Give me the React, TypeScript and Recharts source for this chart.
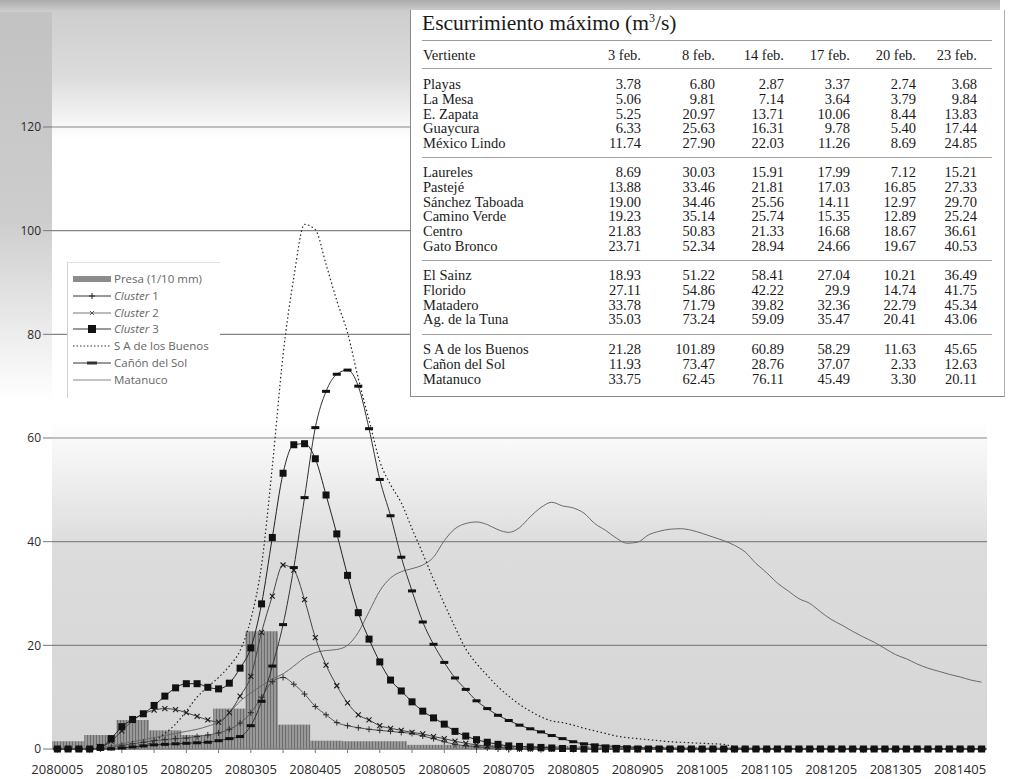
import React from "react";
import { ComposedChart, Bar, Line, XAxis, YAxis, CartesianGrid } from "recharts";

// 10-minute steps, day 208, 00:05 .. 14:25
const hourCodes = ["00", "01", "02", "03", "04", "05", "06", "07", "08", "09", "10", "11", "12", "13", "14"];
const minuteCodes = ["05", "15", "25", "35", "45", "55"];
const categories = hourCodes.flatMap((h) => minuteCodes.map((m) => `208${h}${m}`)).slice(0, 87);

const yTicks = [0, 20, 40, 60, 80, 100, 120];

// Presa (1/10 mm), one value per half hour
const presaHalfHour = [
  1.5, 2.7, 5.6, 3.6, 2.7, 7.8, 22.7, 4.7, 1.6, 1.5, 1.5, 0.8, 0.8, 0.8, 0.6,
  0.6, 0.5, 0.5, 0.4, 0.4, 0.3, 0.3, 0, 0, 0, 0, 0, 0, 0,
];

const cluster1 = [
  0, 0, 0, 0, 0, 0.3, 0.7, 1, 1.3, 1.6, 1.8, 2, 2.1, 2.4, 2.7, 3.1, 3.8, 5, 7, 10,
  13, 13.8, 12.5, 10.6, 8.2, 6.6, 5.1, 4.5, 4.1, 3.8, 3.6, 3.4, 3.2, 3, 2.5, 2, 1.4, 0.9, 0.6, 0.4,
  0.2, 0, 0, 0, 0, 0, 0, 0, 0, 0, 0, 0, 0, 0, 0, 0, 0, 0, 0, 0,
  0, 0, 0, 0, 0, 0, 0, 0, 0, 0, 0, 0, 0, 0, 0, 0, 0, 0, 0, 0,
  0, 0, 0, 0, 0, 0, 0,
];

const cluster2 = [
  0, 0, 0, 0, 0.3, 1.5, 3.5, 5.5, 6.8, 7.5, 7.8, 7.6, 7, 6.3, 5.6, 5.2, 7, 10.2, 14, 22.5,
  29.5, 35.5, 34.5, 28.8, 21.5, 16.2, 12.2, 8.9, 6.6, 5.6, 4.5, 4, 3.6, 3.2, 2.9, 2.4, 2, 1.5, 1.1, 0.8,
  0.5, 0.3, 0.2, 0, 0, 0, 0, 0, 0, 0, 0, 0, 0, 0, 0, 0, 0, 0, 0, 0,
  0, 0, 0, 0, 0, 0, 0, 0, 0, 0, 0, 0, 0, 0, 0, 0, 0, 0, 0, 0,
  0, 0, 0, 0, 0, 0, 0,
];

const cluster3 = [
  0, 0, 0, 0, 0.3, 2, 4.3, 5.7, 6.8, 8.4, 10.2, 11.8, 12.6, 12.6, 11.9, 11.6, 12.7, 15.6, 19.5, 28,
  40.8, 53.2, 58.7, 58.9, 56, 49, 41.5, 33.5, 26.3, 21.2, 16.8, 13.3, 11.2, 9.1, 7.3, 6, 4.8, 3.4, 2.5, 1.8,
  1.3, 0.9, 0.6, 0.5, 0.4, 0.3, 0.2, 0.1, 0.1, 0, 0, 0, 0, 0, 0, 0, 0, 0, 0, 0,
  0, 0, 0, 0, 0, 0, 0, 0, 0, 0, 0, 0, 0, 0, 0, 0, 0, 0, 0, 0,
  0, 0, 0, 0, 0, 0, 0,
];

const saBuenos = [
  0, 0, 0, 0, 0, 0, 0, 0, 0.5, 1.5, 3, 4.8, 7.3, 10, 12, 13.8, 16, 19, 25, 35.5,
  54.5, 76, 91, 101.2, 100.2, 93.5, 86.5, 80.3, 71.5, 63.5, 55.5, 51, 47.5, 42.5, 37.7, 32.7, 28, 23.5, 19.3, 16.5,
  14.2, 12, 10.2, 8.6, 7.3, 6.2, 5.4, 5.1, 4.6, 4, 3.5, 3, 2.5, 2.2, 2, 1.8, 1.6, 1.4, 1.3, 1.2,
  1.1, 1, 0.9, 0.4, 0, 0, 0, 0, 0, 0, 0, 0, 0, 0, 0, 0, 0, 0, 0, 0,
  0, 0, 0, 0, 0, 0, 0,
];

const canonSol = [
  0, 0, 0, 0, 0, 0, 0.2, 0.4, 0.6, 0.8, 0.9, 1, 1.1, 1.2, 1.3, 1.6, 2, 2.4, 4.5, 9.2,
  16, 24, 35, 48.5, 62, 69, 72.3, 73.1, 70, 61.8, 52, 45, 37, 30.5, 24.5, 20.2, 16.7, 13.7, 11.5, 9.3,
  7.8, 6.5, 5.5, 4.6, 3.9, 3.3, 2.6, 2, 1.4, 1, 0.8, 0.6, 0.5, 0.4, 0.3, 0.2, 0.2, 0.1, 0, 0,
  0, 0, 0, 0, 0, 0, 0, 0, 0, 0, 0, 0, 0, 0, 0, 0, 0, 0, 0, 0,
  0, 0, 0, 0, 0, 0, 0,
];

const matanuco = [
  0, 0, 0, 0, 0.2, 0.6, 1, 1.4, 1.8, 2.2, 2.6, 3, 3.4, 3.8, 4.4, 5.2, 7, 9.2, 10.8, 12.2,
  13.5, 14.5, 16, 17.6, 18.6, 19, 19.2, 20, 22.5, 26.5, 30.5, 33, 34.2, 34.8, 35.5, 37, 40.2, 42.5, 43.5, 43.8,
  43.3, 42.3, 41.8, 42.7, 44.8, 46.6, 47.6, 46.9, 46.5, 45.5, 43.5, 42.2, 40.7, 39.7, 39.9, 41.3, 42, 42.4, 42.5, 42.2,
  41.6, 40.9, 40.2, 39.3, 38, 35.8, 34, 32, 30.5, 29, 28.1, 26.5, 25, 23.9, 22.7, 21.6, 20.6, 19.4, 18.2, 17.4,
  16.4, 15.6, 15, 14.4, 13.9, 13.3, 12.9,
];

// Escurrimiento máximo table
const tableDates = ["3 feb.", "8 feb.", "14 feb.", "17 feb.", "20 feb.", "23 feb."];
const vertientesA = ["Playas", "La Mesa", "E. Zapata", "Guaycura", "México Lindo"];
const valuesA = [
  ["3.78", "6.80", "2.87", "3.37", "2.74", "3.68"],
  ["5.06", "9.81", "7.14", "3.64", "3.79", "9.84"],
  ["5.25", "20.97", "13.71", "10.06", "8.44", "13.83"],
  ["6.33", "25.63", "16.31", "9.78", "5.40", "17.44"],
  ["11.74", "27.90", "22.03", "11.26", "8.69", "24.85"],
];
const vertientesB = ["Laureles", "Pastejé", "Sánchez Taboada", "Camino Verde", "Centro", "Gato Bronco"];
const valuesB = [
  ["8.69", "30.03", "15.91", "17.99", "7.12", "15.21"],
  ["13.88", "33.46", "21.81", "17.03", "16.85", "27.33"],
  ["19.00", "34.46", "25.56", "14.11", "12.97", "29.70"],
  ["19.23", "35.14", "25.74", "15.35", "12.89", "25.24"],
  ["21.83", "50.83", "21.33", "16.68", "18.67", "36.61"],
  ["23.71", "52.34", "28.94", "24.66", "19.67", "40.53"],
];
const vertientesC = ["El Sainz", "Florido", "Matadero", "Ag. de la Tuna"];
const valuesC = [
  ["18.93", "51.22", "58.41", "27.04", "10.21", "36.49"],
  ["27.11", "54.86", "42.22", "29.9", "14.74", "41.75"],
  ["33.78", "71.79", "39.82", "32.36", "22.79", "45.34"],
  ["35.03", "73.24", "59.09", "35.47", "20.41", "43.06"],
];
const vertientesD = ["S A de los Buenos", "Cañon del Sol", "Matanuco"];
const valuesD = [
  ["21.28", "101.89", "60.89", "58.29", "11.63", "45.65"],
  ["11.93", "73.47", "28.76", "37.07", "2.33", "12.63"],
  ["33.75", "62.45", "76.11", "45.49", "3.30", "20.11"],
];

const rows = categories.map((cat, i) => ({
  cat,
  presa: presaHalfHour[Math.floor(i / 3)],
  c1: cluster1[i],
  c2: cluster2[i],
  c3: cluster3[i],
  sa: saBuenos[i],
  cs: canonSol[i],
  mt: matanuco[i],
}));

const xTicks = categories.filter((_, i) => i % 3 === 0);

const SANS = "'Open Sans', 'DejaVu Sans', sans-serif";
const SERIF = "'Liberation Serif', 'DejaVu Serif', serif";

function XTick(props: any) {
  const { x, y, payload } = props;
  if (!String(payload.value).endsWith("05")) return <g />;
  return (
    <text x={x} y={y + 19} textAnchor="middle" fill="#2a2a2a" fontSize={13} fontFamily={SANS}>
      {payload.value}
    </text>
  );
}

function plusDot(p: any) {
  if (p.cy == null) return <g key={`p${p.index}`} />;
  return (
    <path key={`p${p.index}`} d={`M${p.cx - 3},${p.cy}h6M${p.cx},${p.cy - 3}v6`} stroke="#2b2b2b" strokeWidth={1} fill="none" />
  );
}

function crossDot(p: any) {
  if (p.cy == null) return <g key={`x${p.index}`} />;
  return (
    <path key={`x${p.index}`} d={`M${p.cx - 2.5},${p.cy - 2.5}l5,5M${p.cx - 2.5},${p.cy + 2.5}l5,-5`} stroke="#1a1a1a" strokeWidth={1.1} fill="none" />
  );
}

function squareDot(p: any) {
  if (p.cy == null) return <g key={`s${p.index}`} />;
  return <rect key={`s${p.index}`} x={p.cx - 3.5} y={p.cy - 3.5} width={7} height={7} fill="#111" />;
}

function dashDot(p: any) {
  if (p.cy == null) return <g key={`d${p.index}`} />;
  return <rect key={`d${p.index}`} x={p.cx - 4} y={p.cy - 1.5} width={8} height={3} fill="#111" />;
}

const legendItems = [
  { label: "Presa (1/10 mm)", kind: "bar" },
  { label: "Cluster", num: " 1", kind: "plus" },
  { label: "Cluster", num: " 2", kind: "cross" },
  { label: "Cluster", num: " 3", kind: "square" },
  { label: "S A de los Buenos", kind: "dotted" },
  { label: "Cañón del Sol", kind: "dash" },
  { label: "Matanuco", kind: "plain" },
];

function LegendSymbol({ kind }: { kind: string }) {
  return (
    <svg width={40} height={12} style={{ display: "block" }}>
      {kind === "bar" && <rect x={0} y={3} width={38} height={6} fill="#8c8c8c" />}
      {kind === "plus" && (
        <g>
          <line x1={0} y1={6} x2={38} y2={6} stroke="#333" strokeWidth={1} />
          <path d="M16,6h6M19,3v6" stroke="#222" strokeWidth={1} />
        </g>
      )}
      {kind === "cross" && (
        <g>
          <line x1={0} y1={6} x2={38} y2={6} stroke="#777" strokeWidth={1} />
          <path d="M17,4l4,4M17,8l4,-4" stroke="#555" strokeWidth={1} />
        </g>
      )}
      {kind === "square" && (
        <g>
          <line x1={0} y1={6} x2={38} y2={6} stroke="#333" strokeWidth={1} />
          <rect x={15} y={2} width={8} height={8} fill="#111" />
        </g>
      )}
      {kind === "dotted" && <line x1={0} y1={6} x2={38} y2={6} stroke="#333" strokeWidth={1} strokeDasharray="1.5 2" />}
      {kind === "dash" && (
        <g>
          <line x1={0} y1={6} x2={38} y2={6} stroke="#333" strokeWidth={1} />
          <rect x={14} y={4.5} width={10} height={3} fill="#333" />
        </g>
      )}
      {kind === "plain" && <line x1={0} y1={6} x2={38} y2={6} stroke="#888" strokeWidth={1} />}
    </svg>
  );
}

function ChartLegend() {
  return (
    <div
      style={{
        position: "absolute",
        left: 67,
        top: 262,
        width: 152,
        height: 135,
        background: "#fff",
        borderLeft: "1px solid #d0d0d0",
        borderTop: "1px solid #e4e4e4",
      }}
    >
      {legendItems.map((it, i) => (
        <div
          key={it.label + i}
          style={{ position: "absolute", left: 5, top: 10 + i * 16.8, display: "flex", alignItems: "center", gap: 1 }}
        >
          <LegendSymbol kind={it.kind} />
          <span style={{ fontFamily: SANS, fontSize: 11.5, color: "#666", whiteSpace: "nowrap", lineHeight: "12px" }}>
            {it.num ? (
              <>
                <i>{it.label}</i>
                {it.num}
              </>
            ) : (
              it.label
            )}
          </span>
        </div>
      ))}
    </div>
  );
}

const colRight = [642, 716, 785, 851, 917, 978];

function TableRow({ label, values, y }: { label: string; values: string[]; y: number }) {
  return (
    <>
      <div style={{ position: "absolute", left: 12, top: y, fontFamily: SERIF, fontSize: 14.5, color: "#1a1a1a", whiteSpace: "nowrap" }}>
        {label}
      </div>
      {values.map((v, j) => (
        <div
          key={j}
          style={{
            position: "absolute",
            right: 410 + 595 - colRight[j],
            top: y,
            fontFamily: SERIF,
            fontSize: 14.5,
            color: "#1a1a1a",
            whiteSpace: "nowrap",
          }}
        >
          {v}
        </div>
      ))}
    </>
  );
}

function RunoffTable() {
  const groups = [
    { names: vertientesA, vals: valuesA, top: 76 },
    { names: vertientesB, vals: valuesB, top: 164 },
    { names: vertientesC, vals: valuesC, top: 267 },
    { names: vertientesD, vals: valuesD, top: 341 },
  ];
  const rules = [157, 260, 334];
  return (
    <div
      style={{
        position: "absolute",
        left: 410,
        top: 10,
        width: 595,
        height: 387,
        background: "#fff",
        borderLeft: "1px solid #8a8a8a",
        borderBottom: "1px solid #8a8a8a",
        borderRight: "1px solid #b0b0b0",
        boxSizing: "border-box",
      }}
    >
      <div style={{ position: "absolute", left: 11, top: 1, fontFamily: SERIF, fontSize: 21.5, color: "#1a1a1a", whiteSpace: "nowrap" }}>
        Escurrimiento máximo (m<sup style={{ fontSize: 12 }}>3</sup>/s)
      </div>
      <div style={{ position: "absolute", left: 11, right: 12, top: 30, height: 1, background: "#9a9a9a" }} />
      <div style={{ position: "absolute", left: 12, top: 37, fontFamily: SERIF, fontSize: 14.5, color: "#1a1a1a" }}>Vertiente</div>
      {tableDates.map((d, j) => (
        <div
          key={d}
          style={{ position: "absolute", right: 410 + 595 - colRight[j], top: 37, fontFamily: SERIF, fontSize: 14.5, color: "#1a1a1a", whiteSpace: "nowrap" }}
        >
          {d}
        </div>
      ))}
      <div style={{ position: "absolute", left: 11, right: 12, top: 58, height: 1, background: "#a0a0a0" }} />
      {rules.map((r) => (
        <div key={r} style={{ position: "absolute", left: 11, right: 12, top: r - 10, height: 1, background: "#a0a0a0" }} />
      ))}
      {groups.map((g) =>
        g.names.map((n, i) => <TableRow key={n} label={n} values={g.vals[i]} y={g.top - 10 + i * 14.8} />)
      )}
    </div>
  );
}

export default function App() {
  return (
    <div style={{ position: "absolute", left: 0, top: 0, width: 1021, height: 779, background: "#fff", overflow: "hidden" }}>
      <svg width={0} height={0} style={{ position: "absolute" }}>
        <defs>
          <pattern id="presaHatch" width={3} height={6} patternUnits="userSpaceOnUse">
            <rect width={3} height={6} fill="#989898" />
            <rect width={1} height={6} fill="#6e6e6e" />
          </pattern>
        </defs>
      </svg>
      {/* scanned-paper shading */}
      <div style={{ position: "absolute", left: 0, top: 0, width: 410, height: 140, background: "linear-gradient(to bottom, #cbcbcb 0%, #dcdcdc 55%, rgba(255,255,255,0) 100%)" }} />
      <div style={{ position: "absolute", left: 0, top: 0, width: 52, height: 400, background: "linear-gradient(to bottom, #c2c2c2 0%, #cdcdcd 55%, rgba(255,255,255,0) 100%)" }} />
      <div style={{ position: "absolute", left: 0, top: 0, width: 1000, height: 12, background: "linear-gradient(to bottom, #ababab, #cfcfcf)" }} />
      <div style={{ position: "absolute", left: 52, top: 420, width: 935, height: 330, background: "linear-gradient(to bottom, rgba(218,218,218,0) 0%, #dcdcdc 38%, #d6d6d6 100%)" }} />

      <div style={{ position: "absolute", left: 0, top: 0 }}>
        <ComposedChart
          width={1021}
          height={779}
          data={rows}
          margin={{ top: 127, right: 34, bottom: 0, left: 0 }}
          barCategoryGap={0}
          barGap={0}
        >
          <CartesianGrid vertical={false} stroke="#858585" strokeWidth={1.2} />
          <XAxis
            dataKey="cat"
            ticks={xTicks}
            interval={0}
            tick={<XTick />}
            tickSize={4}
            height={30}
            axisLine={{ stroke: "#777" }}
            tickLine={{ stroke: "#777" }}
          />
          <YAxis
            domain={[0, 120]}
            ticks={yTicks}
            width={52}
            tickSize={9}
            tickMargin={2}
            axisLine={false}
            tickLine={{ stroke: "#777" }}
            tick={{ fill: "#2a2a2a", fontSize: 12, fontFamily: SANS }}
          />
          <Bar dataKey="presa" fill="url(#presaHatch)" isAnimationActive={false} />
          <Line type="monotone" dataKey="mt" stroke="#6a6a6a" strokeWidth={1} dot={false} activeDot={false} isAnimationActive={false} />
          <Line type="monotone" dataKey="c1" stroke="#555" strokeWidth={1} dot={plusDot} activeDot={false} isAnimationActive={false} />
          <Line type="monotone" dataKey="c2" stroke="#444" strokeWidth={1} dot={crossDot} activeDot={false} isAnimationActive={false} />
          <Line type="monotone" dataKey="cs" stroke="#333" strokeWidth={1} dot={dashDot} activeDot={false} isAnimationActive={false} />
          <Line type="monotone" dataKey="sa" stroke="#222" strokeWidth={1.2} strokeDasharray="1.5 2.5" dot={false} activeDot={false} isAnimationActive={false} />
          <Line type="monotone" dataKey="c3" stroke="#222" strokeWidth={1} dot={squareDot} activeDot={false} isAnimationActive={false} />
        </ComposedChart>
      </div>
      <ChartLegend />
      <RunoffTable />
    </div>
  );
}
